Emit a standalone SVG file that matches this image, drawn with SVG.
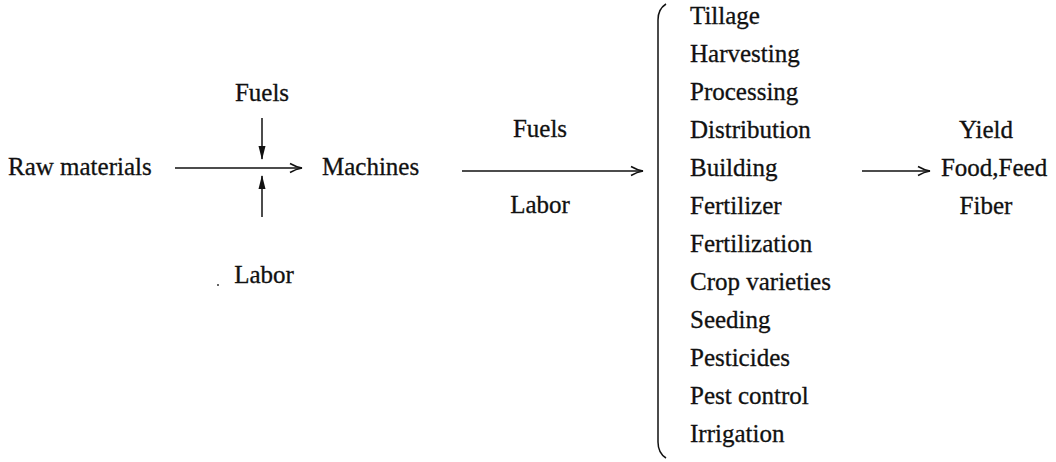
<svg xmlns="http://www.w3.org/2000/svg" width="1056" height="462" viewBox="0 0 1056 462">
<style>
text{font-family:"Liberation Serif","Times New Roman",serif;font-size:25px;fill:#111;stroke:#111;stroke-width:0.3}
.c{text-anchor:middle}
.ln{stroke:#111;stroke-width:1.5;fill:none}
</style>
<defs>
<marker id="open" viewBox="0 0 14 12" refX="13" refY="6" markerWidth="14" markerHeight="12" markerUnits="userSpaceOnUse" orient="auto">
<path d="M1,1.5 Q7,5 13,6 Q7,7 1,10.5" fill="none" stroke="#111" stroke-width="1.5"/>
</marker>
<marker id="solid" viewBox="0 0 14 12" refX="13" refY="6" markerWidth="14" markerHeight="12" markerUnits="userSpaceOnUse" orient="auto">
<path d="M0,2.5 L14,6 L0,9.5 Z" fill="#111"/>
</marker>
</defs>
<rect width="1056" height="462" fill="#fff"/>
<g id="raw"><text x="8" y="175">Raw materials</text></g>
<g id="fuels1"><text class="c" x="262" y="101">Fuels</text></g>
<g id="labor1"><text class="c" x="264" y="283">Labor</text><circle cx="218" cy="285" r="1" fill="#333"/></g>
<g id="machines"><text x="322" y="175">Machines</text></g>
<g id="fuels2"><text class="c" x="540" y="137">Fuels</text></g>
<g id="labor2"><text class="c" x="540" y="213">Labor</text></g>
<g id="list">
<path class="ln" d="M666,4 Q658,9 658,20 L658,442 Q658,453 666,458"/>
<text x="690" y="24">Tillage</text>
<text x="690" y="62">Harvesting</text>
<text x="690" y="100">Processing</text>
<text x="690" y="138">Distribution</text>
<text x="690" y="176">Building</text>
<text x="690" y="214">Fertilizer</text>
<text x="690" y="252">Fertilization</text>
<text x="690" y="290">Crop varieties</text>
<text x="690" y="328">Seeding</text>
<text x="690" y="366">Pesticides</text>
<text x="690" y="404">Pest control</text>
<text x="690" y="442">Irrigation</text>
</g>
<g id="yield">
<text class="c" x="986" y="138">Yield</text>
<text class="c" x="994" y="176">Food,Feed</text>
<text class="c" x="986" y="214">Fiber</text>
</g>
<g id="connectors">
<line class="ln" x1="175" y1="168" x2="302" y2="168" marker-end="url(#open)"/>
<line class="ln" x1="262" y1="118" x2="262" y2="159" marker-end="url(#solid)"/>
<line class="ln" x1="262" y1="217" x2="262" y2="176" marker-end="url(#solid)"/>
<line class="ln" x1="462" y1="171" x2="643" y2="171" marker-end="url(#open)"/>
<line class="ln" x1="862" y1="171" x2="930" y2="171" marker-end="url(#open)"/>
</g>
</svg>
